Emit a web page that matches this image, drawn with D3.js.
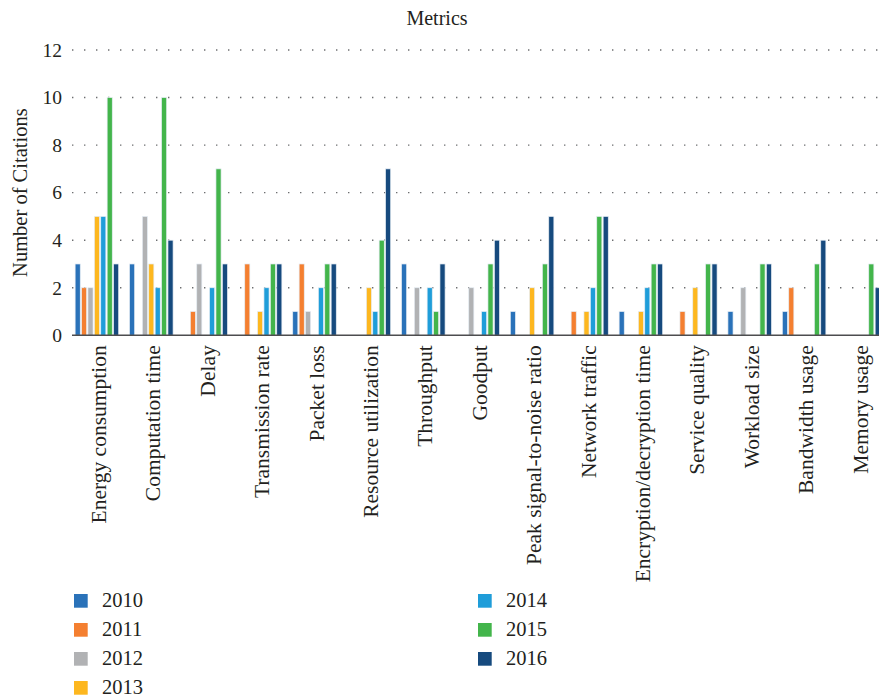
<!DOCTYPE html>
<html>
<head>
<meta charset="utf-8">
<script src="https://cdn.jsdelivr.net/npm/d3@7"></script>
<style>
  html, body { margin: 0; padding: 0; background: #fff; }
  svg { display: block; }
  text { font-family: "Liberation Serif", "Times New Roman", serif; fill: #231f20; }
</style>
</head>
<body>
<svg id="chart" width="879" height="697"></svg>
<script>
// Metrics and citation counts per year
const categories = [
  "Energy consumption", "Computation time", "Delay", "Transmission rate",
  "Packet loss", "Resource utilization", "Throughput", "Goodput",
  "Peak signal-to-noise ratio", "Network traffic", "Encryption/decryption time",
  "Service quality", "Workload size", "Bandwidth usage", "Memory usage"
];
const years = ["2010", "2011", "2012", "2013", "2014", "2015", "2016"];

const values2010 = [3, 3, 0, 0, 1, 0, 3, 0, 1, 0, 1, 0, 1, 1, 0];
const values2011 = [2, 0, 1, 3, 3, 0, 0, 0, 0, 1, 0, 1, 0, 2, 0];
const values2012 = [2, 5, 3, 0, 1, 0, 2, 2, 0, 0, 0, 0, 2, 0, 0];
const values2013 = [5, 3, 0, 1, 0, 2, 0, 0, 2, 1, 1, 2, 0, 0, 0];
const values2014 = [5, 2, 2, 2, 2, 1, 2, 1, 0, 2, 2, 0, 0, 0, 0];
const values2015 = [10, 10, 7, 3, 3, 4, 1, 3, 3, 5, 3, 3, 3, 3, 3];
const values2016 = [3, 4, 3, 3, 3, 7, 3, 4, 5, 5, 3, 3, 3, 4, 2];

const yTicks = [0, 2, 4, 6, 8, 10, 12];
const colors = ["#2a72b9", "#f47f30", "#b1b2b4", "#fdb71f", "#1f9dd9", "#43b54b", "#164a7e"];

const seriesValues = [values2010, values2011, values2012, values2013, values2014, values2015, values2016];
const series = years.map((y, i) => ({ year: y, color: colors[i], values: seriesValues[i] }));

const serif = '"Liberation Serif", "Times New Roman", serif';
const svg = d3.select("#chart");

const plot = { left: 69.7, right: 885.7, top: 50, bottom: 335.3 };

const x0 = d3.scaleBand()
  .domain(categories)
  .range([plot.left, plot.right])
  .paddingInner(0.176)
  .paddingOuter(0.088);

const x1 = d3.scaleBand()
  .domain(years)
  .range([0, x0.bandwidth()])
  .paddingInner(0.2)
  .paddingOuter(0.1);

const y = d3.scaleLinear().domain([0, 12]).range([plot.bottom, plot.top]);

// Title
svg.append("text")
  .attr("x", 437)
  .attr("y", 25)
  .attr("text-anchor", "middle")
  .style("font-family", serif)
  .style("font-size", "20px")
  .text("Metrics");

// Y axis label
svg.append("text")
  .attr("transform", `translate(27,${(plot.top + plot.bottom) / 2}) rotate(-90)`)
  .attr("text-anchor", "middle")
  .style("font-family", serif)
  .style("font-size", "20.5px")
  .text("Number of Citations");

// Dotted gridlines
svg.append("g")
  .selectAll("line")
  .data(yTicks.filter(t => t > 0))
  .join("line")
  .attr("x1", 72)
  .attr("x2", 879)
  .attr("y1", d => y(d))
  .attr("y2", d => y(d))
  .attr("stroke", "#6d6e70")
  .attr("stroke-width", 1.4)
  .attr("stroke-dasharray", "1.4 10.6");

// Y axis tick labels
const yAxis = d3.axisLeft(y).tickValues(yTicks).tickSize(0).tickPadding(0);
const gy = svg.append("g")
  .attr("transform", "translate(62,0)")
  .call(yAxis)
  .attr("font-family", null)
  .attr("font-size", null);
gy.select(".domain").remove();
gy.selectAll("text")
  .style("font-family", serif)
  .style("font-size", "19.5px")
  .attr("fill", "#231f20");

// Bars
const groups = svg.append("g")
  .selectAll("g")
  .data(categories)
  .join("g")
  .attr("transform", d => `translate(${x0(d)},0)`);

groups.selectAll("rect")
  .data((c, ci) => series.map(s => ({ year: s.year, color: s.color, value: s.values[ci] })).filter(d => d.value > 0))
  .join("rect")
  .attr("x", d => x1(d.year))
  .attr("width", x1.bandwidth())
  .attr("y", d => y(d.value))
  .attr("height", d => y(0) - y(d.value))
  .attr("fill", d => d.color)
  .attr("stroke", "#e6edf4")
  .attr("stroke-width", 0.7);

// Baseline
svg.append("line")
  .attr("x1", 72)
  .attr("x2", 879)
  .attr("y1", y(0))
  .attr("y2", y(0))
  .attr("stroke", "#4d4d4f")
  .attr("stroke-width", 1.6);

// Category labels (rotated)
const xAxis = d3.axisBottom(x0).tickSize(0).tickPadding(0);
const gx = svg.append("g")
  .attr("transform", `translate(0,${y(0)})`)
  .call(xAxis)
  .attr("font-family", null)
  .attr("font-size", null);
gx.select(".domain").remove();
gx.selectAll("text")
  .style("font-family", serif)
  .style("font-size", "21.5px")
  .attr("fill", "#231f20")
  .attr("text-anchor", "end")
  .attr("dy", null)
  .attr("y", 0)
  .attr("transform", "translate(2,10) rotate(-90)")
  .attr("dominant-baseline", "central");

// Legend
const legendCols = [
  { x: 74, items: series.slice(0, 4) },
  { x: 478, items: series.slice(4) }
];
const rowTop = 594, rowStep = 29, sw = 13.7;
legendCols.forEach(col => {
  const g = svg.append("g");
  const rows = g.selectAll("g")
    .data(col.items)
    .join("g")
    .attr("transform", (d, i) => `translate(${col.x},${rowTop + i * rowStep})`);
  rows.append("rect")
    .attr("width", sw)
    .attr("height", sw)
    .attr("fill", d => d.color);
  rows.append("text")
    .attr("x", 28)
    .attr("y", sw - 1)
    .style("font-family", serif)
    .style("font-size", "20.5px")
    .text(d => d.year);
});
</script>
</body>
</html>
